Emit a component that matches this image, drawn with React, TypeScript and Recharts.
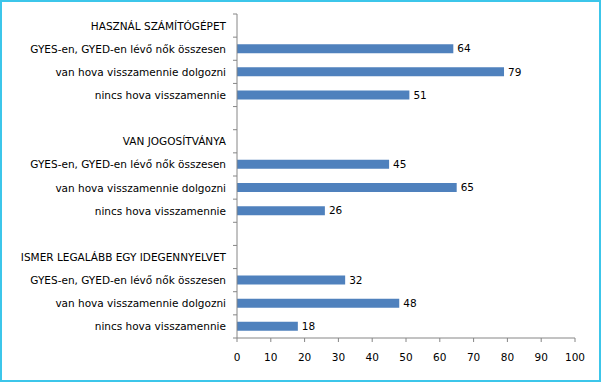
import React from "react";
import { BarChart, Bar, XAxis, YAxis, LabelList } from "recharts";

const categories = [
  "HASZNÁL SZÁMÍTÓGÉPET",
  "GYES-en, GYED-en lévő nők összesen",
  "van hova visszamennie dolgozni",
  "nincs hova visszamennie",
  "",
  "VAN JOGOSÍTVÁNYA",
  "GYES-en, GYED-en lévő nők összesen",
  "van hova visszamennie dolgozni",
  "nincs hova visszamennie",
  "",
  "ISMER LEGALÁBB EGY IDEGENNYELVET",
  "GYES-en, GYED-en lévő nők összesen",
  "van hova visszamennie dolgozni",
  "nincs hova visszamennie",
];
const values: (number | null)[] = [null, 64, 79, 51, null, null, 45, 65, 26, null, null, 32, 48, 18];
const xTicks = [0, 10, 20, 30, 40, 50, 60, 70, 80, 90, 100];

const data = categories.map((c, i) => ({ name: c, value: values[i] }));

const FONT = "DejaVu Sans";
const FS = 10.5;
const AXIS = "#868686";
const TICK_SIZE = 4;
const TICK_MARGIN = 7;

const CatTick = (props: any) => {
  const { x, y, payload, height, visibleTicksCount, index } = props;
  const band = height / visibleTicksCount;
  const ax = x + TICK_MARGIN + TICK_SIZE;
  return (
    <g>
      <line x1={ax - TICK_SIZE} x2={ax} y1={y - band / 2} y2={y - band / 2} stroke={AXIS} />
      {index === visibleTicksCount - 1 && (
        <line x1={ax - TICK_SIZE} x2={ax} y1={y + band / 2} y2={y + band / 2} stroke={AXIS} />
      )}
      <text x={x} y={y} dy={4} textAnchor="end" fill="#000" fontSize={FS} fontFamily={FONT}>
        {payload.value}
      </text>
    </g>
  );
};

export default function App() {
  return (
    <div
      style={{
        position: "absolute",
        left: 0,
        top: 0,
        width: 601,
        height: 382,
        boxSizing: "border-box",
        border: "2px solid #3cc6ea",
        background: "#fff",
      }}
    >
      <BarChart
        width={597}
        height={378}
        data={data}
        layout="vertical"
        margin={{ top: 12, right: 24, bottom: 0, left: 6 }}
        barCategoryGap={0}
      >
        <XAxis
          type="number"
          domain={[0, 100]}
          ticks={xTicks}
          interval={0}
          axisLine={{ stroke: AXIS }}
          tickLine={{ stroke: AXIS }}
          tickSize={4}
          tickMargin={12}
          tick={{ fill: "#000", fontSize: FS, fontFamily: FONT }}
          height={42}
        />
        <YAxis
          type="category"
          dataKey="name"
          width={229}
          axisLine={{ stroke: AXIS }}
          tickLine={false}
          tickSize={TICK_SIZE}
          interval={0}
          tickMargin={TICK_MARGIN}
          tick={<CatTick />}
        />
        <Bar dataKey="value" fill="#4f81bd" barSize={9} isAnimationActive={false}>
          <LabelList
            dataKey="value"
            position="right"
            offset={4}
            style={{ fill: "#000", fontSize: FS, fontFamily: FONT }}
          />
        </Bar>
      </BarChart>
    </div>
  );
}
